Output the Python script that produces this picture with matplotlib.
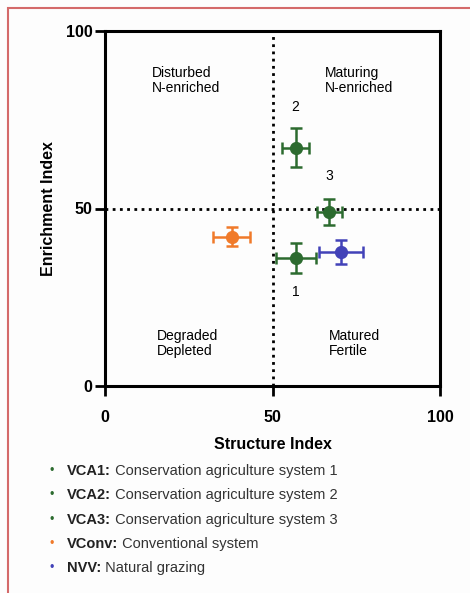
import matplotlib
matplotlib.use("Agg")
import matplotlib.pyplot as plt
from matplotlib.patches import Rectangle

plt.rcParams['font.family'] = ['Liberation Sans', 'DejaVu Sans']

# Data
names = ['VCA1', 'VCA2', 'VCA3', 'VConv', 'NVV']
descriptions = ['Conservation agriculture system 1', 'Conservation agriculture system 2',
                'Conservation agriculture system 3', 'Conventional system', 'Natural grazing']
structure = [57.0, 56.9, 66.9, 37.8, 70.4]
structure_err = [6.1, 4.1, 3.7, 5.5, 6.5]
enrichment = [36.1, 67.1, 49.1, 42.1, 37.8]
enrichment_err = [4.2, 5.5, 3.7, 2.7, 3.3]
point_labels = ['1', '2', '3', '', '']
colors = ['#2c6b2f', '#2c6b2f', '#2c6b2f', '#f07a2a', '#4242b8']

quadrants = ['Disturbed\nN-enriched', 'Maturing\nN-enriched', 'Degraded\nDepleted', 'Matured\nFertile']
quad_x = [14, 65.7, 15.5, 66.9]
quad_y = [86, 86, 12, 12]

fig = plt.figure(figsize=(4.7, 5.93), dpi=100)
fig.patch.set_facecolor('#fdfdfd')

# red frame around the panel
fig.patches.append(Rectangle((8 / 470, -0.05), 1.2, 1 - 8 / 593 + 0.05, transform=fig.transFigure,
                             fill=False, edgecolor='#d46a6a', linewidth=1.5))

ax = fig.add_axes([105 / 470, (593 - 386) / 593, 335 / 470, 355 / 593])
ax.set_facecolor('#fdfdfd')
ax.set_xlim(0, 100)
ax.set_ylim(0, 100)

ax.axvline(50, color='black', linestyle=(0, (1, 1.6)), linewidth=2, zorder=1)
ax.axhline(50, color='black', linestyle=(0, (1, 1.6)), linewidth=2, zorder=1)

for i in range(len(names)):
    ax.errorbar(structure[i], enrichment[i], xerr=structure_err[i], yerr=enrichment_err[i],
                fmt='o', color=colors[i], markersize=8.5, elinewidth=1.8, capsize=4.5,
                capthick=1.8, zorder=3)

label_pos = {'1': (57, 26.6), '2': (56.9, 78.6), '3': (66.9, 59.2)}
for lab in point_labels:
    if lab:
        ax.text(label_pos[lab][0], label_pos[lab][1], lab, ha='center', va='center', fontsize=10)

for t, x, y in zip(quadrants, quad_x, quad_y):
    ax.text(x, y, t, ha='left', va='center', fontsize=10, linespacing=1.1)

ax.set_xticks([0, 50, 100])
ax.set_yticks([0, 50, 100])
for lbl in ax.get_xticklabels() + ax.get_yticklabels():
    lbl.set_fontweight('bold')
    lbl.set_fontsize(11.5)
for s in ax.spines.values():
    s.set_linewidth(2.2)
ax.tick_params(axis='y', width=2, length=7, pad=2)
ax.tick_params(axis='x', width=2, length=7, pad=10)
ax.set_xlabel('Structure Index', fontsize=11.5, fontweight='bold', labelpad=9)
ax.set_ylabel('Enrichment Index', fontsize=11.5, fontweight='bold', labelpad=7)

# legend below the chart
for i in range(len(names)):
    y = 1 - (471 + i * 24.3) / 593
    fig.text(52 / 470, y, '\u2022', color=colors[i], fontsize=9, va='center', ha='center')
    bold = fig.text(67 / 470, y, names[i] + ':', fontsize=10.5, fontweight='bold',
                    va='center', color='#222222')
    plt.annotate(' ' + descriptions[i], xy=(1, 0.5), xycoords=bold, va='center', ha='left',
                 fontsize=10.5, color='#333333', annotation_clip=False)

fig.savefig('out.png', dpi=100, facecolor=fig.get_facecolor())
